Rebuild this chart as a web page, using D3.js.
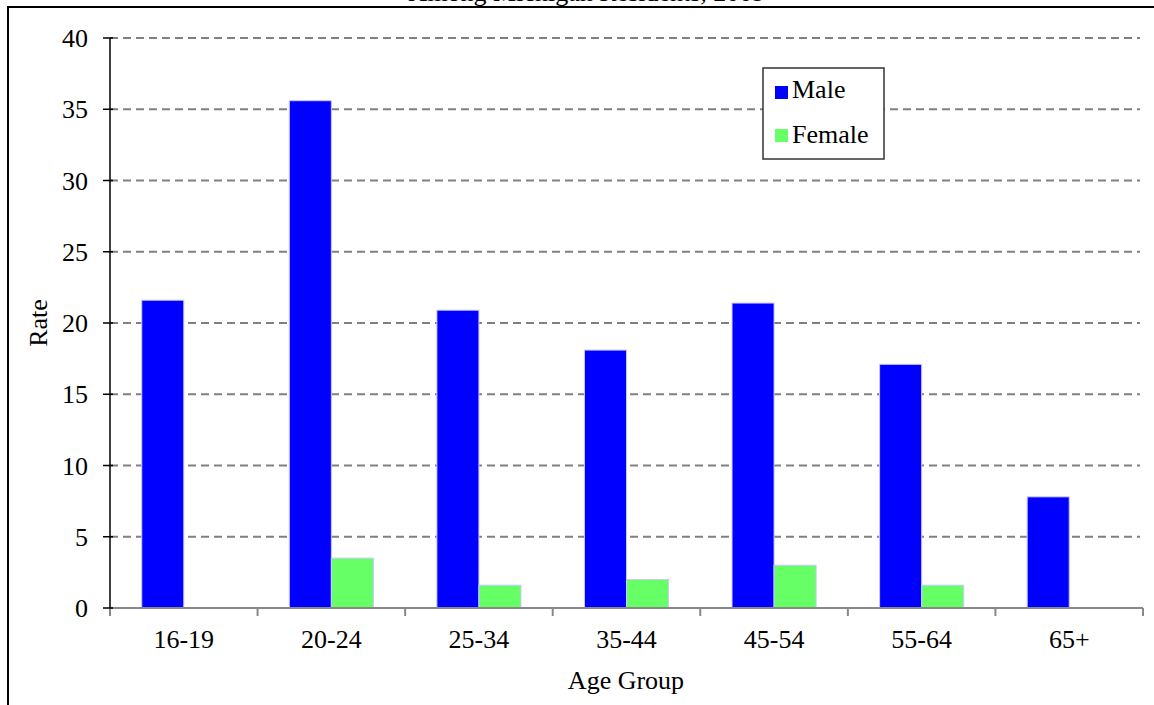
<!DOCTYPE html>
<html>
<head>
<meta charset="utf-8">
<script src="https://cdnjs.cloudflare.com/ajax/libs/d3/7.8.5/d3.min.js"></script>
<style>
  body { margin: 0; background: #fff; }
  text { font-family: "Liberation Serif", "Times New Roman", serif; fill: #000; }
</style>
</head>
<body>
<div id="chart"></div>
<script>
var W = 1154, H = 705;
var margin = {top: 38, right: 12, bottom: 97, left: 110},
    width = 1143 - margin.left,
    height = 608 - margin.top;

// age groups and rates
var ageGroups = ["16-19","20-24","25-34","35-44","45-54","55-64","65+"];
var male   = [21.6, 35.6, 20.9, 18.1, 21.4, 17.1, 7.8];
var female = [null, 3.5, 1.6, 2.0, 3.0, 1.6, null];
var seriesNames = ["Male","Female"];
var seriesColors = ["#0000ff","#66ff66"];
var yTicks = [0,5,10,15,20,25,30,35,40];

var svg = d3.select("#chart").append("svg")
    .attr("width", W)
    .attr("height", H);

// outer frame (clipped by the window on right and bottom)
svg.append("path")
    .attr("d", "M8," + H + "V7H" + W)
    .attr("fill", "none")
    .attr("stroke", "#000")
    .attr("stroke-width", 2);

// title, mostly cut off above the frame
svg.append("text")
    .attr("x", 587)
    .attr("y", 1)
    .attr("text-anchor", "middle")
    .style("font-size", "26px")
    .text("Among Michigan Residents, 2009");

var g = svg.append("g")
    .attr("transform", "translate(" + margin.left + "," + margin.top + ")");

var x0 = d3.scaleBand().domain(ageGroups).range([0, width]).padding(0);
var x1 = d3.scaleBand().domain(seriesNames).range([0, x0.bandwidth()]).paddingInner(0).paddingOuter(0.755);
var y = d3.scaleLinear().domain([0, 40]).range([height, 0]);

// gridlines
g.append("g")
    .selectAll("line")
    .data(yTicks.filter(function(d) { return d > 0; }))
    .enter().append("line")
    .attr("x1", 0)
    .attr("x2", width - 3)
    .attr("y1", function(d) { return y(d); })
    .attr("y2", function(d) { return y(d); })
    .attr("stroke", "#808080")
    .attr("stroke-width", 2)
    .attr("stroke-dasharray", "8,5");

// bars
var rows = ageGroups.map(function(a, i) {
    return {age: a, values: [{s: "Male", v: male[i]}, {s: "Female", v: female[i]}]};
});

g.selectAll(".grp")
    .data(rows)
    .enter().append("g")
    .attr("class", "grp")
    .attr("transform", function(d) { return "translate(" + x0(d.age) + ",0)"; })
    .selectAll("rect")
    .data(function(d) { return d.values.filter(function(v) { return v.v != null; }); })
    .enter().append("rect")
    .attr("x", function(d) { return x1(d.s); })
    .attr("y", function(d) { return y(d.v); })
    .attr("width", x1.bandwidth())
    .attr("height", function(d) { return height - y(d.v); })
    .attr("fill", function(d) { return seriesColors[seriesNames.indexOf(d.s)]; })
    .attr("stroke", "#c8c8ff")
    .attr("stroke-width", 1);

// x axis
var xAxis = g.append("g")
    .attr("transform", "translate(0," + height + ")");
xAxis.append("line")
    .attr("x1", 0).attr("x2", width)
    .attr("stroke", "#888").attr("stroke-width", 2);
xAxis.selectAll(".tk")
    .data(d3.range(ageGroups.length + 1))
    .enter().append("line")
    .attr("x1", function(i) { return i * x0.step(); })
    .attr("x2", function(i) { return i * x0.step(); })
    .attr("y1", 0).attr("y2", 8)
    .attr("stroke", "#888").attr("stroke-width", 2);
xAxis.selectAll(".lbl")
    .data(ageGroups)
    .enter().append("text")
    .attr("x", function(d) { return x0(d) + x0.bandwidth() / 2; })
    .attr("y", 40)
    .attr("text-anchor", "middle")
    .style("font-size", "26px")
    .text(function(d) { return d; });

// y axis
var yAxis = g.append("g");
yAxis.append("line")
    .attr("y1", 0).attr("y2", height)
    .attr("stroke", "#000").attr("stroke-width", 1.5);
yAxis.selectAll(".tk")
    .data(yTicks)
    .enter().append("line")
    .attr("x1", -7).attr("x2", 3)
    .attr("y1", function(d) { return y(d); })
    .attr("y2", function(d) { return y(d); })
    .attr("stroke", "#000").attr("stroke-width", 1.5);
yAxis.selectAll(".lbl")
    .data(yTicks)
    .enter().append("text")
    .attr("x", -22)
    .attr("y", function(d) { return y(d) + 9; })
    .attr("text-anchor", "end")
    .style("font-size", "26px")
    .text(function(d) { return d; });

// axis titles
svg.append("text")
    .attr("transform", "translate(47,323) rotate(-90)")
    .attr("text-anchor", "middle")
    .style("font-size", "26px")
    .text("Rate");

svg.append("text")
    .attr("x", 626)
    .attr("y", 689)
    .attr("text-anchor", "middle")
    .style("font-size", "26px")
    .text("Age Group");

// legend
var legend = svg.append("g").attr("transform", "translate(763,68)");
legend.append("rect")
    .attr("width", 121).attr("height", 91)
    .attr("fill", "#fff")
    .attr("stroke", "#333").attr("stroke-width", 1.5);
seriesNames.forEach(function(s, i) {
    legend.append("rect")
        .attr("x", 12).attr("y", 18 + i * 43)
        .attr("width", 13).attr("height", 13)
        .attr("fill", seriesColors[i]);
    legend.append("text")
        .attr("x", 29).attr("y", 30 + i * 45)
        .style("font-size", "26px")
        .text(s);
});
</script>
</body>
</html>
